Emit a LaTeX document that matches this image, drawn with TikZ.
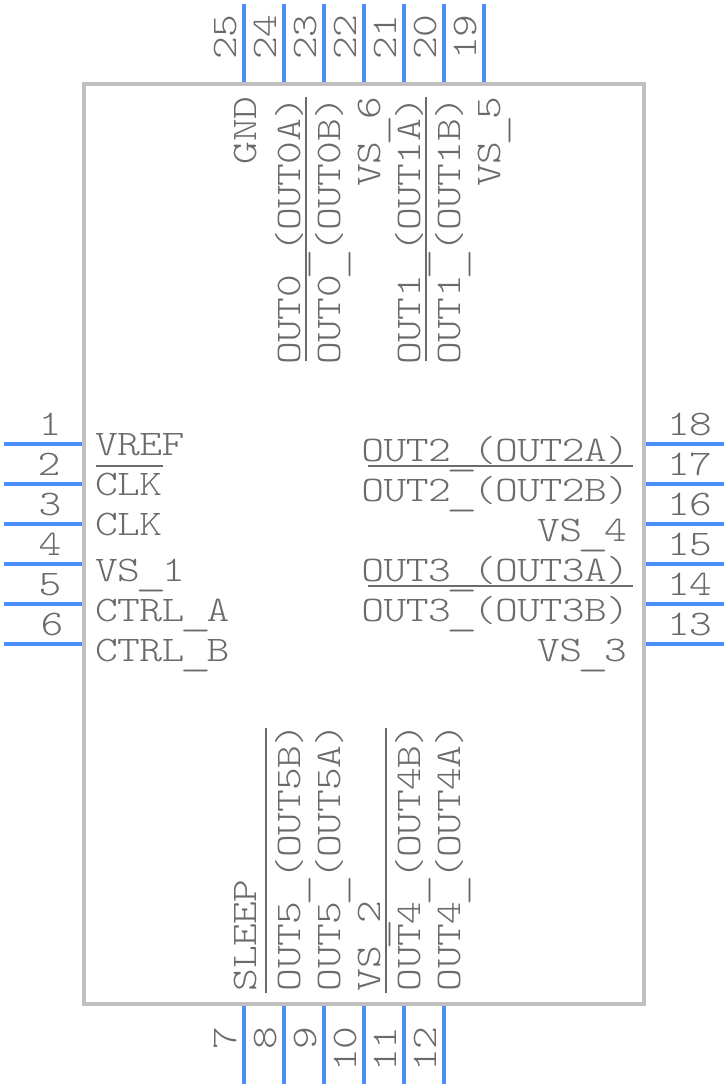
\documentclass[tikz,border=0pt]{standalone}
\usepackage{fontspec}
\setmainfont[FakeStretch=1.205,LetterSpace=-1.6]{Latin Modern Mono Light}
\definecolor{pinblue}{HTML}{4A8FF5}
\definecolor{boxgray}{HTML}{BFBFBF}
\definecolor{textgray}{HTML}{6B6B6B}
\newcommand{\us}{\raisebox{-4pt}{\makebox[22.2pt][c]{\scalebox{1.4}[1]{\_}}}}
\tikzset{
 lbl/.style={inner sep=0pt,outer sep=0pt,text=textgray,font=\fontsize{36}{36}\selectfont},
 pinline/.style={draw=pinblue,line width=4pt},
 barline/.style={draw=textgray,line width=2pt},
 chip/.style={draw=boxgray,line width=4pt,fill=none,inner sep=0pt,outer sep=0pt,minimum width=560pt,minimum height=920pt}
}
\begin{document}
\begin{tikzpicture}[x=1pt,y=-1pt]
\useasboundingbox (0,0) rectangle (728,1088);
\node[chip] (body) at (364,544) {};
% left pins
\foreach \n/\y/\d in {1/444/50,2/484/49,3/524/50,4/564/50,5/604/50,6/644/52}{
  \coordinate (pa\n) at (4,\y); \coordinate (pb\n) at (82,\y);
  \draw[pinline] (pa\n) -- (pb\n);
  \node[lbl,anchor=base] (pn\n) at (\d,\y-9) {\n};
}
% right pins
\foreach \n/\y in {18/444,17/484,16/524,15/564,14/604,13/644}{
  \coordinate (pa\n) at (646,\y); \coordinate (pb\n) at (724,\y);
  \draw[pinline] (pa\n) -- (pb\n);
  \node[lbl,anchor=base west] (pn\n) at (667,\y-9) {\n};
}
% top pins
\foreach \n/\x in {25/244,24/284,23/324,22/364,21/404,20/444,19/484}{
  \coordinate (pa\n) at (\x,4); \coordinate (pb\n) at (\x,82);
  \draw[pinline] (pa\n) -- (pb\n);
  \node[lbl,rotate=90,anchor=base east] (pn\n) at (\x-8,15) {\n};
}
% bottom pins
\foreach \n/\x in {7/244,8/284,9/324,10/364,11/404,12/444}{
  \coordinate (pa\n) at (\x,1006); \coordinate (pb\n) at (\x,1084);
  \draw[pinline] (pa\n) -- (pb\n);
  \node[lbl,rotate=90,anchor=base east] (pn\n) at (\x-8,1027) {\n};
}
% left labels
\foreach \i/\t/\y in {a/VREF/455,b/CLK/495,c/CLK/535,d/VS\us 1/581,e/CTRL\us A/621,f/CTRL\us B/661}{
  \node[lbl,anchor=base west] (l\i) at (95,\y) {\t};
}
% right labels
\foreach \i/\t/\y/\e in {a/OUT2\us(OUT2A)/461/629,b/OUT2\us(OUT2B)/501/629,c/VS\us 4/541/627,d/OUT3\us(OUT3A)/581/629,e/OUT3\us(OUT3B)/621/629,f/VS\us 3/661/627}{
  \node[lbl,anchor=base east] (r\i) at (\e,\y) {\t};
}
% top labels
\foreach \i/\t/\x in {a/GND/256,b/OUT0\us(OUT0A)/300,c/OUT0\us(OUT0B)/340,d/VS\us 6/380,e/OUT1\us(OUT1A)/420,f/OUT1\us(OUT1B)/460,g/VS\us 5/500}{
  \node[lbl,rotate=90,anchor=base east] (t\i) at (\x,97) {\t};
}
% bottom labels
\foreach \i/\t/\x in {a/SLEEP/256,b/OUT5\us(OUT5B)/300,c/OUT5\us(OUT5A)/340,d/VS\us 2/380,e/OUT4\us(OUT4B)/420,f/OUT4\us(OUT4A)/460}{
  \node[lbl,rotate=90,anchor=base west] (u\i) at (\x,991) {\t};
}
% bars
\draw[barline] (96,466) -- (163,466);
\draw[barline] (368,466) -- (633,466);
\draw[barline] (368,586) -- (633,586);
\draw[barline] (306,97) -- (306,361);
\draw[barline] (426,97) -- (426,361);
\draw[barline] (266,728) -- (266,993);
\draw[barline] (386,728) -- (386,993);
\end{tikzpicture}
\end{document}
